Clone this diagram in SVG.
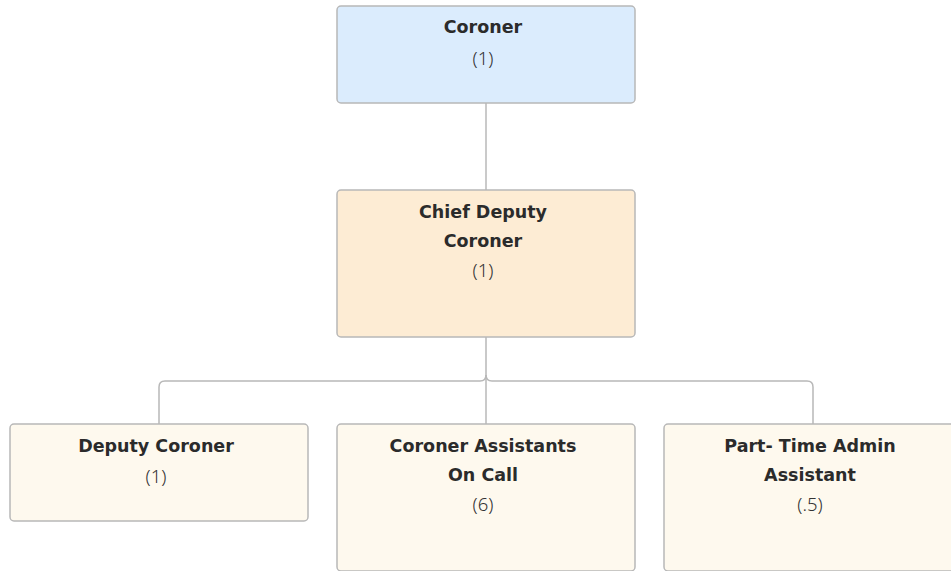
<svg xmlns="http://www.w3.org/2000/svg" width="951" height="571" viewBox="0 0 951 571">
<style>
.box{stroke:#b8b8b8;stroke-width:1.5}
.t{font-family:"DejaVu Sans","Noto Sans",sans-serif;font-size:17.5px;font-weight:bold;fill:#2b2b2b;text-anchor:middle;dominant-baseline:central}
.n{font-family:"Noto Sans","DejaVu Sans",sans-serif;font-size:18.5px;font-weight:300;fill:#333333;text-anchor:middle;dominant-baseline:central}
.c{fill:none;stroke:#b8b8b8;stroke-width:1.5}
</style>
<rect width="951" height="571" fill="#ffffff"/>
<g id="connectors">
<path class="c" d="M486 103V190"/>
<path class="c" d="M486 337V375Q486 381 480 381H165Q159 381 159 387V424"/>
<path class="c" d="M486 375Q486 381 492 381H807Q813 381 813 387V424"/>
<path class="c" d="M486 375V424"/>
</g>
<g id="coroner">
<rect class="box" x="337" y="6" width="298" height="97" rx="4" fill="#dbecfd"/>
<text class="t" x="483" y="27">Coroner</text>
<text class="n" x="483" y="57">(1)</text>
</g>
<g id="chief-deputy">
<rect class="box" x="337" y="190" width="298" height="147" rx="4" fill="#fdecd4"/>
<text class="t" x="483" y="212">Chief Deputy</text>
<text class="t" x="483" y="241">Coroner</text>
<text class="n" x="483" y="269">(1)</text>
</g>
<g id="deputy-coroner">
<rect class="box" x="10" y="424" width="298" height="97" rx="4" fill="#fef9ee"/>
<text class="t" x="156" y="446">Deputy Coroner</text>
<text class="n" x="156" y="475">(1)</text>
</g>
<g id="coroner-assistants">
<rect class="box" x="337" y="424" width="298" height="147" rx="4" fill="#fef9ee"/>
<text class="t" x="483" y="446">Coroner Assistants</text>
<text class="t" x="483" y="475">On Call</text>
<text class="n" x="483" y="503">(6)</text>
</g>
<g id="part-time-admin">
<rect class="box" x="664" y="424" width="298" height="147" rx="4" fill="#fef9ee"/>
<text class="t" x="810" y="446">Part- Time Admin</text>
<text class="t" x="810" y="475">Assistant</text>
<text class="n" x="810" y="503">(.5)</text>
</g>
</svg>
